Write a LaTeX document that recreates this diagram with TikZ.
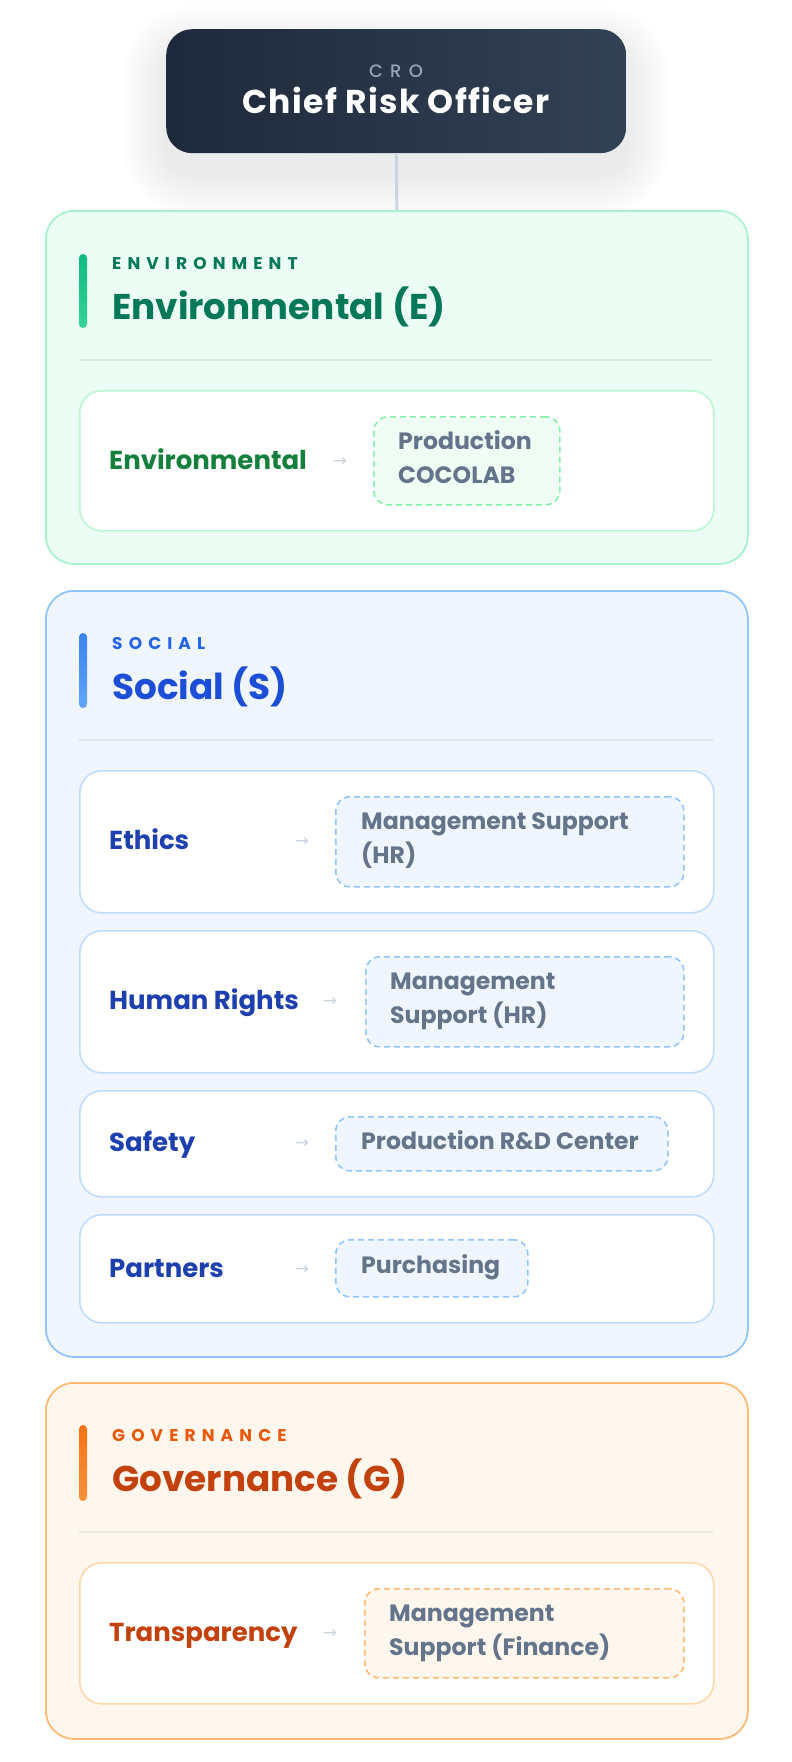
\documentclass[tikz,border=0pt]{standalone}
\usepackage{fontspec}
\setmainfont{Poppins}
\newfontfamily\pbold{Poppins}[UprightFont=* Bold]
\newfontfamily\psemi{Poppins}[UprightFont=* SemiBold]
\newfontfamily\pcaps{Poppins}[UprightFont=* Bold, LetterSpace=36]
\newfontfamily\pcro{Poppins}[UprightFont=* Medium, LetterSpace=40]
\newfontfamily\ptitle{Poppins}[UprightFont=* Bold, LetterSpace=4]
\newfontfamily\arrowfont{DejaVu Sans}
\definecolor{croA}{HTML}{1E293B}
\definecolor{croB}{HTML}{334155}
\definecolor{croSub}{HTML}{94A3B8}
\definecolor{conn}{HTML}{CBD5E1}
\definecolor{tgt}{HTML}{64748B}
\definecolor{arrowc}{HTML}{CBD5E1}
% environment
\definecolor{eBorder}{HTML}{A7F3D0}
\definecolor{eFill}{HTML}{ECFDF5}
\definecolor{eItem}{HTML}{BBF7D0}
\definecolor{eCaps}{HTML}{047857}
\definecolor{eTitle}{HTML}{047857}
\definecolor{eLbl}{HTML}{15803D}
\definecolor{eBarA}{HTML}{10B981}
\definecolor{eBarB}{HTML}{34D399}
\definecolor{eDash}{HTML}{86EFAC}
\definecolor{eTFill}{HTML}{F0FDF4}
\definecolor{eDiv}{HTML}{D5EBDF}
% social
\definecolor{sBorder}{HTML}{93C5FD}
\definecolor{sFill}{HTML}{EFF6FF}
\definecolor{sItem}{HTML}{BFDBFE}
\definecolor{sCaps}{HTML}{2563EB}
\definecolor{sTitle}{HTML}{1D4ED8}
\definecolor{sLbl}{HTML}{1E40AF}
\definecolor{sBarA}{HTML}{3B82F6}
\definecolor{sBarB}{HTML}{60A5FA}
\definecolor{sDash}{HTML}{93C5FD}
\definecolor{sTFill}{HTML}{EFF6FF}
\definecolor{sDiv}{HTML}{DCE5F2}
% governance
\definecolor{gBorder}{HTML}{FDBA74}
\definecolor{gFill}{HTML}{FFF7ED}
\definecolor{gItem}{HTML}{FED7AA}
\definecolor{gCaps}{HTML}{EA580C}
\definecolor{gTitle}{HTML}{C2410C}
\definecolor{gLbl}{HTML}{C2410C}
\definecolor{gBarA}{HTML}{F97316}
\definecolor{gBarB}{HTML}{FB923C}
\definecolor{gDash}{HTML}{FDBA74}
\definecolor{gTFill}{HTML}{FFF7ED}
\definecolor{gDiv}{HTML}{EEE7E0}
\begin{document}
\begin{tikzpicture}[x=1pt,y=-1pt,
  card/.style={draw, line width=1.8pt, rounded corners=28pt, minimum width=702pt, anchor=north west, inner sep=0pt},
  itembox/.style={draw, line width=1.6pt, fill=white, rounded corners=22pt, minimum width=634pt, anchor=north west, inner sep=0pt},
  tbox/.style={draw, dash pattern=on 6pt off 4pt, line width=1.6pt, rounded corners=14pt, anchor=north west, inner sep=0pt},
  capslbl/.style={anchor=base west, inner sep=0pt, font=\pcaps\fontsize{17}{20}\selectfont},
  titlelbl/.style={anchor=base west, inner sep=0pt, font=\pbold\fontsize{35.8}{40}\selectfont},
  itemlbl/.style={anchor=base west, inner sep=0pt, font=\pbold\fontsize{26}{30}\selectfont},
  ttxt/.style={anchor=base west, inner sep=0pt, font=\pbold\fontsize{23.6}{28}\selectfont, text=tgt},
  arr/.style={inner sep=0pt, font=\arrowfont\fontsize{17}{20}\selectfont, text=arrowc},
  divider/.style={line width=1.5pt},
]
\useasboundingbox[fill=white] (0,0) rectangle (792,1762);

% ---------------- CRO ----------------
% soft shadow built from faint layers
\foreach \i [evaluate=\i as \r using 26+\i*2.2] in {1,...,20}{
  \fill[black, opacity=0.0055, rounded corners=\r pt]
    ({166-\i*2.2},{49-\i*2.2}) rectangle ({626+\i*2.2},{173+\i*2.2});
}
\node[draw=none, rounded corners=26pt, minimum width=460pt, minimum height=124pt, anchor=north west, inner sep=0pt,
      left color=croA, right color=croB] (cro) at (166,29) {};
\node[anchor=base, inner sep=0pt, font=\pcro\fontsize{18}{20}\selectfont, text=croSub] (crosub) at (396,77) {CRO};
\node[anchor=base, inner sep=0pt, font=\ptitle\fontsize{33}{38}\selectfont, text=white] (crotitle) at (396,113) {Chief Risk Officer};

% ---------------- Environmental ----------------
\node[card, draw=eBorder, fill=eFill, minimum height=353pt] (env) at (45,210) {};
\draw[conn, line width=3pt] (cro.south) -- (env.north);
\path[top color=eBarA, bottom color=eBarB, rounded corners=4pt] (79,254) rectangle (87,328);
\node[capslbl, text=eCaps] (envcaps) at (112,269) {ENVIRONMENT};
\node[titlelbl, text=eTitle] (envtitle) at (112,319) {Environmental (E)};
\draw[divider, eDiv] (79,360) -- (713,360);
\node[itembox, draw=eItem, minimum height=140pt] (envitem) at (79,390) {};
\node[itemlbl, text=eLbl] (envlbl) at (109,469) {Environmental};
\node[arr] (envarr) at (340,462) {→};
\node[tbox, draw=eDash, fill=eTFill, minimum width=186pt, minimum height=88pt] (envtgt) at (373,416) {};
\node[ttxt] (envtgtA) at (398,449) {Production};
\node[ttxt] (envtgtB) at (398,483) {COCOLAB};

% ---------------- Social ----------------
\node[card, draw=sBorder, fill=sFill, minimum height=766pt] (soc) at (45,590) {};
\path[top color=sBarA, bottom color=sBarB, rounded corners=4pt] (79,633) rectangle (87,708);
\node[capslbl, text=sCaps] (soccaps) at (112,649) {SOCIAL};
\node[titlelbl, text=sTitle] (soctitle) at (112,699) {Social (S)};
\draw[divider, sDiv] (79,740) -- (713,740);

% Ethics
\node[itembox, draw=sItem, minimum height=142pt] (ethitem) at (79,770) {};
\node[itemlbl, text=sLbl] (ethlbl) at (109,849) {Ethics};
\node[arr] (etharr) at (302,842) {→};
\node[tbox, draw=sDash, fill=sTFill, minimum width=348pt, minimum height=90pt] (ethtgt) at (335,796) {};
\node[ttxt] (ethtgtA) at (361,829) {Management Support};
\node[ttxt] (ethtgtB) at (361,863) {(HR)};

% Human Rights
\node[itembox, draw=sItem, minimum height=142pt] (hritem) at (79,930) {};
\node[itemlbl, text=sLbl] (hrlbl) at (109,1009) {Human Rights};
\node[arr] (hrarr) at (330,1002) {→};
\node[tbox, draw=sDash, fill=sTFill, minimum width=318pt, minimum height=90pt] (hrtgt) at (365,956) {};
\node[ttxt] (hrtgtA) at (390,989) {Management};
\node[ttxt] (hrtgtB) at (390,1023) {Support (HR)};

% Safety
\node[itembox, draw=sItem, minimum height=106pt] (safitem) at (79,1090) {};
\node[itemlbl, text=sLbl] (saflbl) at (109,1151) {Safety};
\node[arr] (safarr) at (302,1144) {→};
\node[tbox, draw=sDash, fill=sTFill, minimum width=332pt, minimum height=54pt] (saftgt) at (335,1116) {};
\node[ttxt] (saftgtA) at (361,1149) {Production R\&D Center};

% Partners
\node[itembox, draw=sItem, minimum height=108pt] (paritem) at (79,1214) {};
\node[itemlbl, text=sLbl] (parlbl) at (109,1277) {Partners};
\node[arr] (pararr) at (302,1270) {→};
\node[tbox, draw=sDash, fill=sTFill, minimum width=192pt, minimum height=57pt] (partgt) at (335,1239) {};
\node[ttxt] (partgtA) at (361,1273) {Purchasing};

% ---------------- Governance ----------------
\node[card, draw=gBorder, fill=gFill, minimum height=356pt] (gov) at (45,1382) {};
\path[top color=gBarA, bottom color=gBarB, rounded corners=4pt] (79,1425) rectangle (87,1501);
\node[capslbl, text=gCaps] (govcaps) at (112,1441) {GOVERNANCE};
\node[titlelbl, text=gTitle] (govtitle) at (112,1491) {Governance (G)};
\draw[divider, gDiv] (79,1532) -- (713,1532);
\node[itembox, draw=gItem, minimum height=141pt] (govitem) at (79,1562) {};
\node[itemlbl, text=gLbl] (govlbl) at (109,1641) {Transparency};
\node[arr] (govarr) at (330,1634) {→};
\node[tbox, draw=gDash, fill=gTFill, minimum width=319pt, minimum height=89pt] (govtgt) at (364,1588) {};
\node[ttxt] (govtgtA) at (389,1621) {Management};
\node[ttxt] (govtgtB) at (389,1655) {Support (Finance)};
\end{tikzpicture}
\end{document}
